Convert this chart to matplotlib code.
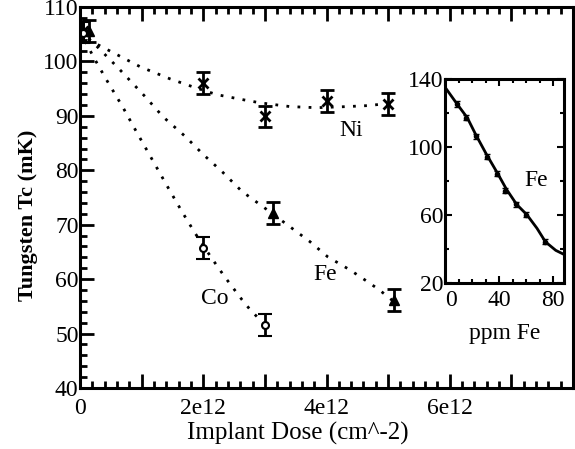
import matplotlib
matplotlib.use("Agg")
import matplotlib.pyplot as plt
from matplotlib.ticker import MultipleLocator

plt.rcParams['font.family'] = ['Liberation Serif', 'DejaVu Serif']

# dose in units of 1e12 cm^-2, Tc in mK
ni_dose = [0.05, 2.0, 3.0, 4.0, 5.0]
ni_tc = [105.5, 96.0, 89.9, 92.8, 92.2]
fe_dose = [0.15, 3.13, 5.1]
fe_tc = [105.6, 72.2, 56.1]
co_dose = [0.05, 2.0, 3.0]
co_tc = [105.3, 65.7, 51.6]
tc_err = 2.0

# dotted guide curves
ni_fit_dose = [0, 0.2, 0.54, 0.98, 1.46, 1.84, 2.22, 2.63, 2.92, 3.41, 3.84, 4.33, 4.7, 5.0]
ni_fit_tc = [105.5, 103.6, 101.6, 99.0, 96.8, 95.3, 93.9, 93.0, 92.4, 91.7, 91.5, 91.7, 91.9, 92.3]
fe_fit_dose = [0, 0.28, 0.62, 1.06, 1.35, 1.71, 2.0, 2.31, 2.63, 2.97, 3.41, 3.73, 4.02, 4.38, 4.67, 4.86, 5.1]
fe_fit_tc = [105.5, 102.7, 98.8, 93.5, 89.8, 86.2, 82.9, 79.7, 76.1, 73.3, 69.6, 66.9, 64.1, 61.7, 59.5, 58.0, 55.8]
co_fit_dose = [0, 0.22, 0.41, 0.7, 0.87, 1.06, 1.25, 1.43, 1.66, 1.87, 2.14, 2.35, 2.63, 2.76, 3.0]
co_fit_tc = [105.5, 100.8, 97.0, 91.5, 88.0, 84.2, 80.4, 76.8, 72.3, 68.4, 63.8, 60.4, 56.2, 54.4, 51.6]

# inset: Tc vs ppm Fe
ppm_fe = [8.9, 15.8, 22.8, 30.8, 38.6, 44.7, 52.5, 60.1, 74.3]
ppm_tc = [125.3, 117.2, 106.2, 94.2, 84.2, 74.2, 66.2, 60.2, 44.2]
ppm_fit_x = [0, 9.0, 16.5, 22.8, 30.3, 39.1, 45.4, 53.0, 60.5, 68.0, 74.3, 81.9, 87.0]
ppm_fit_y = [135.2, 125.2, 117.2, 107.2, 96.2, 84.2, 75.2, 66.2, 60.2, 52.2, 44.2, 39.2, 37.2]

dose_ticks = [0, 1, 2, 3, 4, 5, 6, 7, 8]
dose_labels = ['0', '', '2e12', '', '4e12', '', '6e12', '', '']

fig = plt.figure(figsize=(5.75, 4.49), dpi=100)
ax = fig.add_axes([80/575, 61/449, 493/575, 381/449])

dots = (0, (1, 3))
ax.plot(ni_fit_dose, ni_fit_tc, color='black', lw=2, linestyle=dots)
ax.plot(fe_fit_dose, fe_fit_tc, color='black', lw=2, linestyle=dots)
ax.plot(co_fit_dose, co_fit_tc, color='black', lw=2, linestyle=dots)

eb = dict(ecolor='black', elinewidth=2, capsize=5, capthick=2, linestyle='none')
ax.errorbar(ni_dose, ni_tc, yerr=tc_err, marker='x', ms=7, mew=2, mfc='black', mec='black', **eb)
ax.errorbar(fe_dose, fe_tc, yerr=tc_err, marker='^', ms=7, mfc='black', mec='black', **eb)
ax.errorbar(co_dose, co_tc, yerr=tc_err, marker='o', ms=5, mew=1.5, mfc='white', mec='black', **eb)

ax.set_xlim(0, 8)
ax.set_ylim(40, 110)
ax.set_xticks(dose_ticks)
ax.set_xticklabels(dose_labels)
ax.xaxis.set_minor_locator(MultipleLocator(0.2))
ax.yaxis.set_major_locator(MultipleLocator(10))
ax.yaxis.set_minor_locator(MultipleLocator(2))
ax.tick_params(which='both', direction='in', top=True, right=False, width=2, labelsize=17)
ax.tick_params(which='major', length=10)
ax.tick_params(which='minor', length=5)
ax.tick_params(axis='y', pad=1)
ax.tick_params(axis='x', pad=7)
for s in ax.spines.values():
    s.set_linewidth(2.2)

ax.set_xlabel('Implant Dose (cm^-2)', fontsize=18)
ax.xaxis.set_label_coords((298 - 80) / 493, -0.09)
ax.set_ylabel('Tungsten Tc (mK)', fontsize=16, fontweight='bold')
ax.yaxis.set_label_coords(-(80 - 38) / 493, (449 - 215 - 61) / 381)

# series labels, pixel positions from the top-left corner
fig.text(351/575, 1 - 130/449, 'Ni', fontsize=17, ha='center', va='center')
fig.text(325/575, 1 - 274/449, 'Fe', fontsize=17, ha='center', va='center')
fig.text(215/575, 1 - 299/449, 'Co', fontsize=17, ha='center', va='center')

# inset
ins = fig.add_axes([445/575, 166/449, 119/575, 204/449])
ins.plot(ppm_fit_x, ppm_fit_y, color='black', lw=2)
ins.errorbar(ppm_fe, ppm_tc, yerr=1.5, marker='o', ms=3, color='black', elinewidth=1.5,
             capsize=2, linestyle='none')
ins.set_xlim(0, 88)
ins.set_ylim(20, 140)
ins.set_xticks([0, 40, 80])
ins.set_yticks([20, 60, 100, 140])
ins.xaxis.set_minor_locator(MultipleLocator(10))
ins.yaxis.set_minor_locator(MultipleLocator(20))
ins.tick_params(which='both', direction='in', top=True, right=True, width=1.5, labelsize=17)
ins.tick_params(which='major', length=5)
ins.tick_params(which='minor', length=3)
ins.tick_params(axis='y', pad=1)
ins.tick_params(axis='x', pad=5)
ins.get_xticklabels()[0].set_horizontalalignment('left')
for s in ins.spines.values():
    s.set_linewidth(2.2)
ins.set_xlabel('ppm Fe', fontsize=17, labelpad=9)
fig.text(536/575, 1 - 180/449, 'Fe', fontsize=17, ha='center', va='center')

fig.savefig('out.png', dpi=100)
